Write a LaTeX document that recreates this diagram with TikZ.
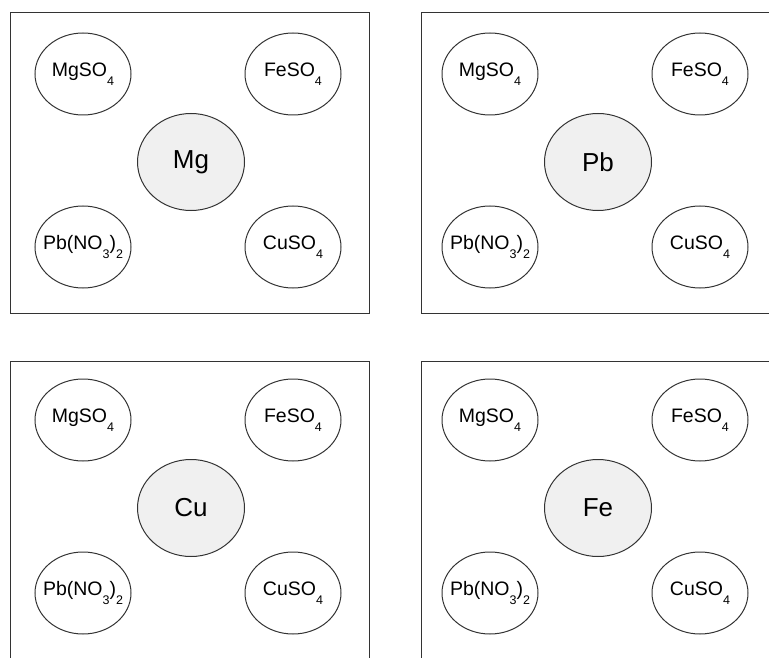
\documentclass[tikz,border=0pt]{standalone}
\usepackage{fontspec}
\setmainfont{Liberation Sans}
\usetikzlibrary{shapes.geometric}
\definecolor{edgegray}{RGB}{51,51,51}
\definecolor{metalfill}{RGB}{240,240,240}
\newcommand{\chsub}[1]{\raisebox{-0.45em}{\fontsize{12.5}{12.5}\selectfont #1}}
\tikzset{
  panelbox/.style={draw=edgegray, line width=1.3pt, rectangle, minimum width=359pt, minimum height=301pt, inner sep=0pt, anchor=north west},
  salt/.style={draw=edgegray, line width=1pt, ellipse, minimum width=96pt, minimum height=82pt, inner sep=0pt, font=\fontsize{19.5}{21}\selectfont},
  metal/.style={draw=edgegray, line width=1pt, ellipse, fill=metalfill, minimum width=107pt, minimum height=97pt, inner sep=0pt, font=\fontsize{26}{29}\selectfont},
}
\begin{document}
\begin{tikzpicture}[x=1pt, y=-1pt]
\useasboundingbox (0,0) rectangle (769,658);
\clip (0,0) rectangle (769,658);
\foreach \px/\py/\bx/\by/\metalname/\nm in {0/0/10/12/Mg/a, 407/0/421/12/Pb/b, 0/346/10/361/Cu/c, 407/346/421/361/Fe/d}{
  \node[panelbox] (\nm-box) at (\bx,\by) {};
  \node[salt] (\nm-mgso) at (\px+83,\py+74) {\makebox[0pt]{MgSO\chsub{4}}};
  \node[salt] (\nm-feso) at (\px+293,\py+74) {\makebox[0pt]{FeSO\chsub{4}}};
  \node[salt] (\nm-pbno) at (\px+83,\py+247) {\makebox[0pt]{Pb(NO\chsub{3})\chsub{2}}};
  \node[salt] (\nm-cuso) at (\px+293,\py+247) {\makebox[0pt]{CuSO\chsub{4}}};
  \node[metal] (\nm-metal) at (\px+191,\py+162) {\makebox[0pt]{\metalname}};
}
\end{tikzpicture}
\end{document}
